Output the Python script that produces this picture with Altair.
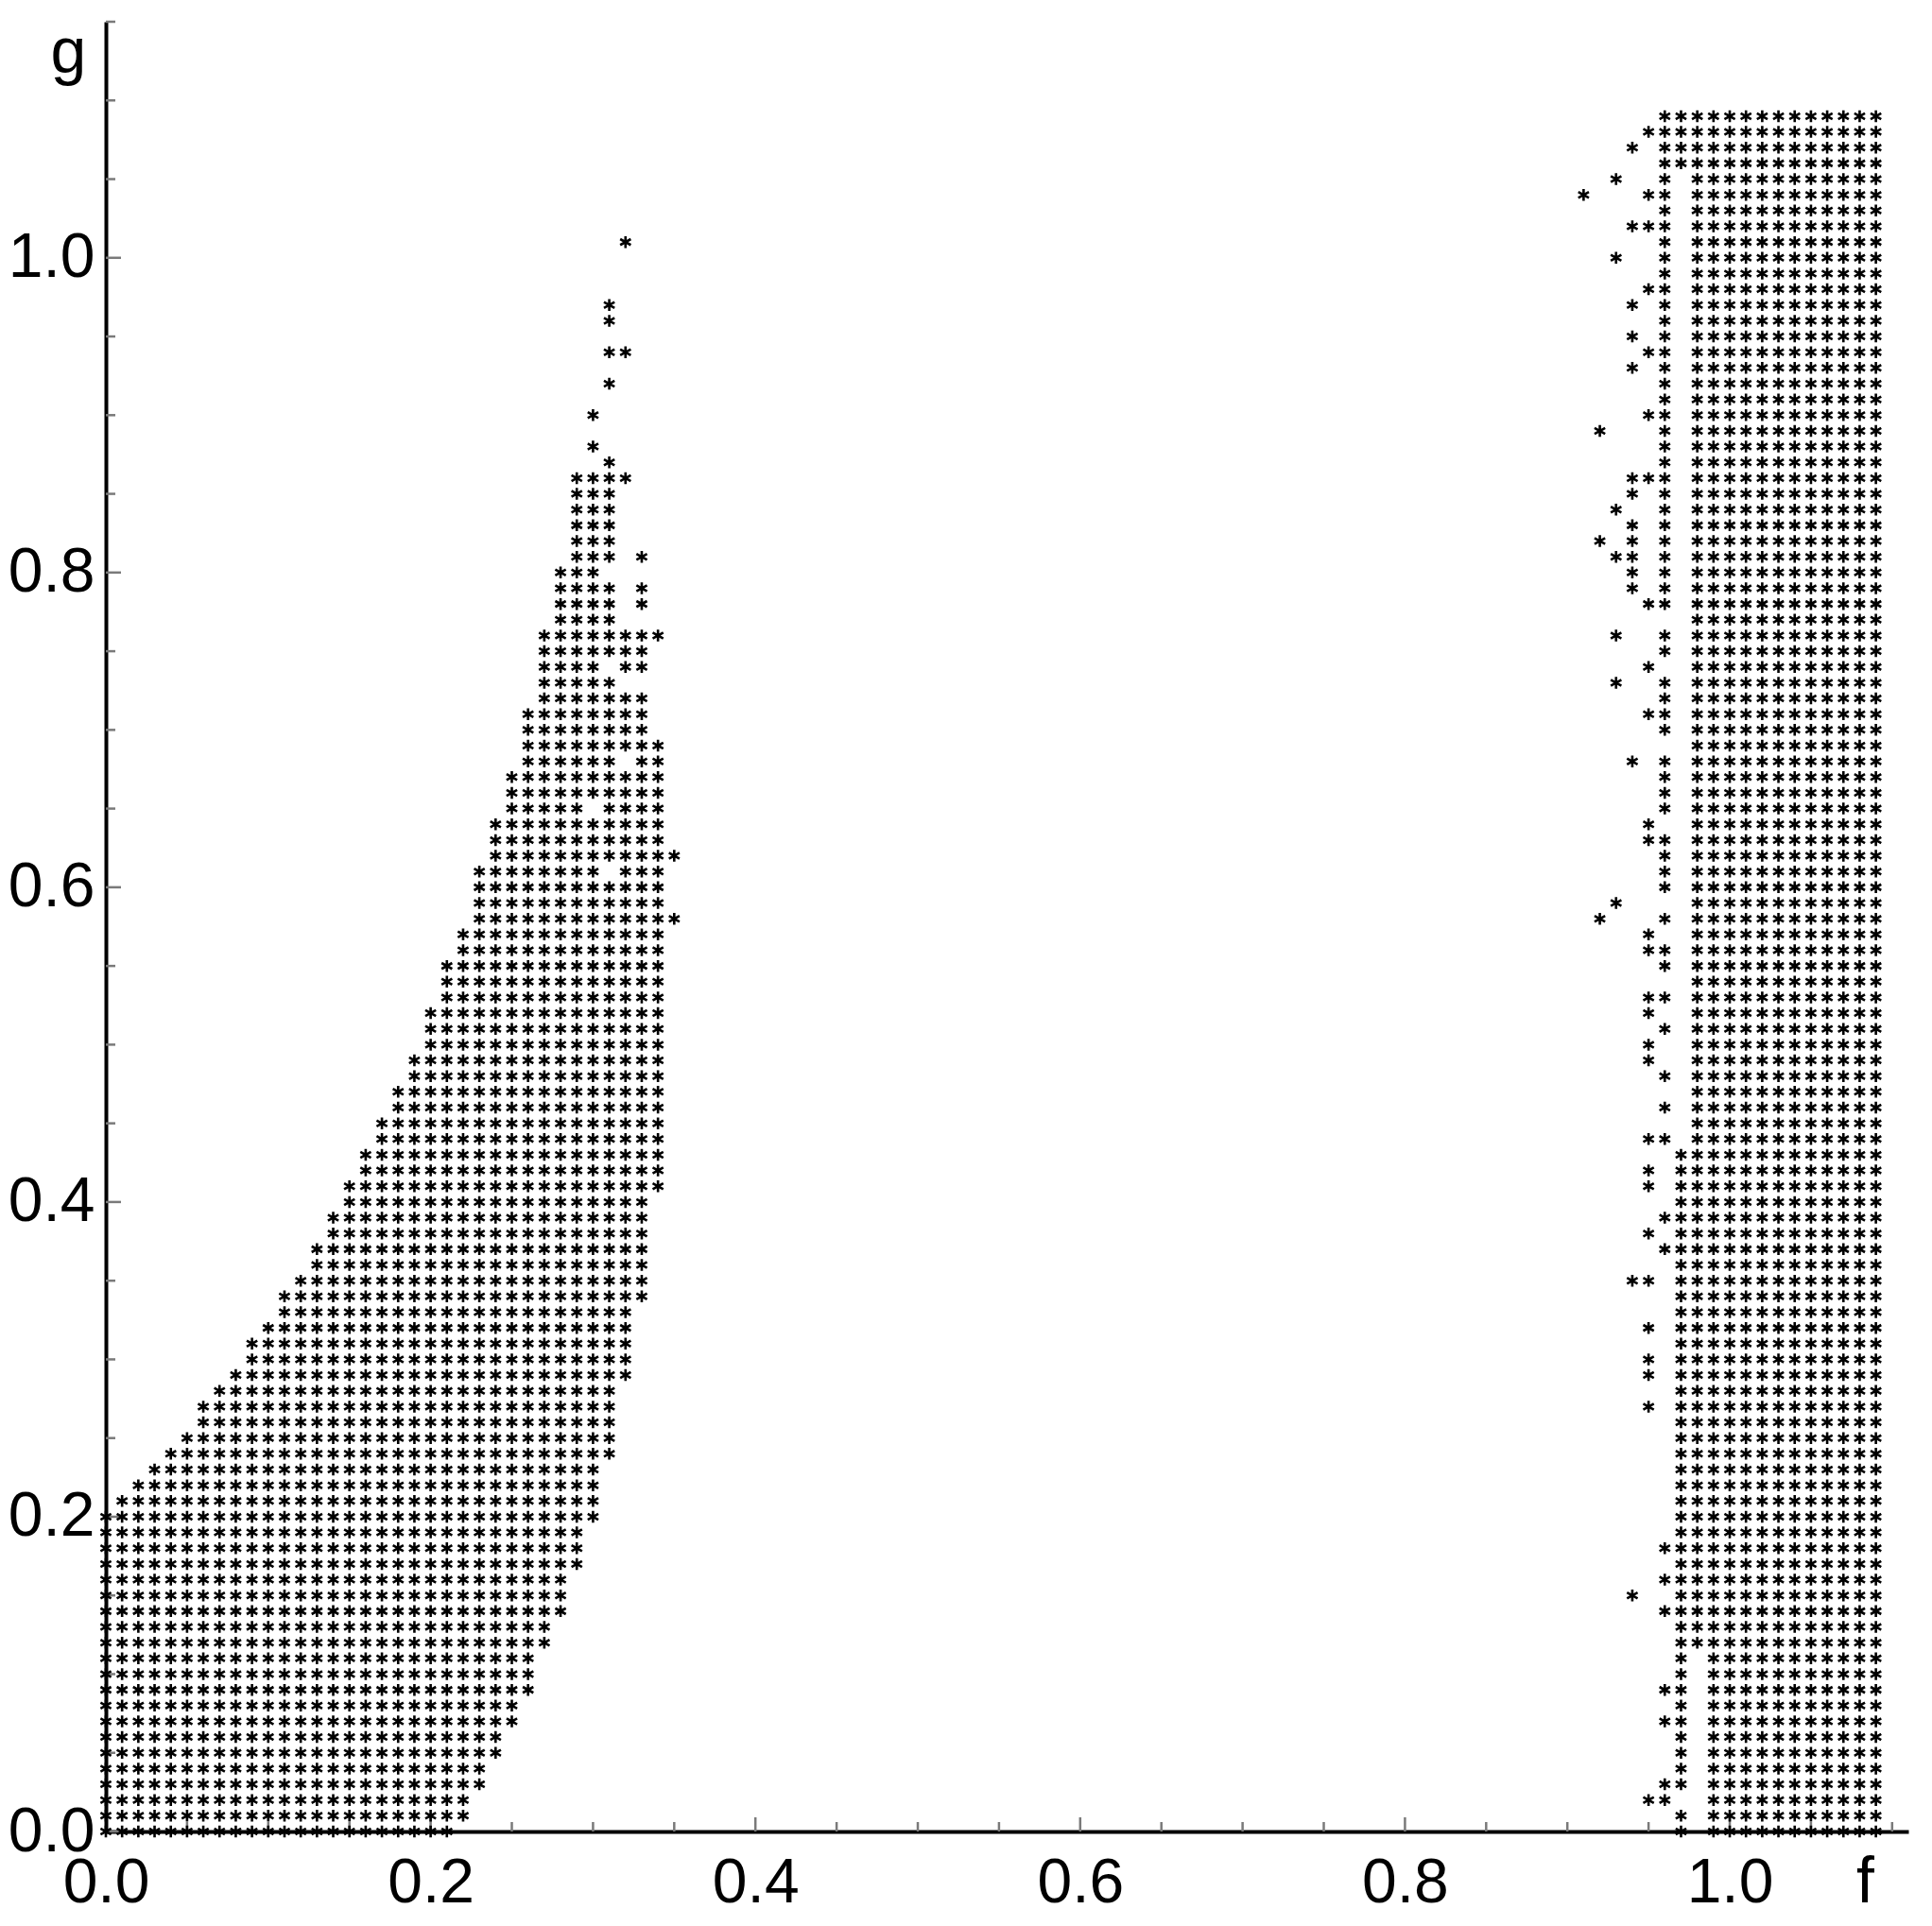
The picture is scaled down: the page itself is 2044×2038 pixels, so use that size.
import altair as alt
import pandas as pd

# Grid rows: key = g index (g = key/100), value = runs of f indices (f = i/100)
LEFT_ROWS = {
    0: "0-21", 1: "0-22", 2: "0-22", 3: "0-23", 4: "0-23", 5: "0-24", 6: "0-24",
    7: "0-25", 8: "0-25", 9: "0-26", 10: "0-26", 11: "0-26", 12: "0-27", 13: "0-27",
    14: "0-28", 15: "0-28", 16: "0-28", 17: "0-29", 18: "0-29", 19: "0-29", 20: "0-30",
    21: "1-30", 22: "2-30", 23: "3-30", 24: "4-31", 25: "5-31", 26: "6-31", 27: "6-31",
    28: "7-31", 29: "8-32", 30: "9-32", 31: "9-32", 32: "10-32", 33: "11-32", 34: "11-33",
    35: "12-33", 36: "13-33", 37: "13-33", 38: "14-33", 39: "14-33", 40: "15-33",
    41: "15-34", 42: "16-34", 43: "16-34", 44: "17-34", 45: "17-34", 46: "18-34",
    47: "18-34", 48: "19-34", 49: "19-34", 50: "20-34", 51: "20-34", 52: "20-34",
    53: "21-34", 54: "21-34", 55: "21-34", 56: "22-34", 57: "22-34", 58: "23-35",
    59: "23-34", 60: "23-34", 61: "23-30,32-34", 62: "24-35", 63: "24-34", 64: "24-34",
    65: "25-29,31-34", 66: "25-34", 67: "25-34", 68: "26-31,33-34", 69: "26-34",
    70: "26-33", 71: "26-33", 72: "27-33", 73: "27-31", 74: "27-30,32-33", 75: "27-33",
    76: "27-34", 77: "28-31", 78: "28-31,33", 79: "28-31,33", 80: "28-30", 81: "29-31,33",
    82: "29-31", 83: "29-31", 84: "29-31", 85: "29-31", 86: "29-32", 87: "31", 88: "30",
    90: "30", 92: "31", 94: "31-32", 96: "31", 97: "31", 101: "32",
}

RIGHT_ROWS = {
    109: "96-109", 108: "95-109", 107: "94,96-109", 106: "96-109", 105: "93,96,98-109",
    104: "91,95-96,98-109", 103: "96,98-109", 102: "94-96,98-109", 101: "96,98-109",
    100: "93,96,98-109", 99: "96,98-109", 98: "95-96,98-109", 97: "94,96,98-109",
    96: "96,98-109", 95: "94,96,98-109", 94: "95-96,98-109", 93: "94,96,98-109",
    92: "96,98-109", 91: "96,98-109", 90: "95-96,98-109", 89: "92,96,98-109",
    88: "96,98-109", 87: "96,98-109", 86: "94-96,98-109", 85: "94,96,98-109",
    84: "93,96,98-109", 83: "94,96,98-109", 82: "92,94,96,98-109", 81: "93-94,96,98-109",
    80: "94,96,98-109", 79: "94,96,98-109", 78: "95-96,98-109", 77: "98-109",
    76: "93,96,98-109", 75: "96,98-109", 74: "95,98-109", 73: "93,96,98-109",
    72: "96,98-109", 71: "95-96,98-109", 70: "96,98-109", 69: "98-109",
    68: "94,96,98-109", 67: "96,98-109", 66: "96,98-109", 65: "96,98-109",
    64: "95,98-109", 63: "95-96,98-109", 62: "96,98-109", 61: "96,98-109",
    60: "96,98-109", 59: "93,98-109", 58: "92,96,98-109", 57: "95,98-109",
    56: "95-96,98-109", 55: "96,98-109", 54: "98-109", 53: "95-96,98-109",
    52: "95,98-109", 51: "96,98-109", 50: "95,98-109", 49: "95,98-109",
    48: "96,98-109", 47: "98-109", 46: "96,98-109", 45: "98-109", 44: "95-96,98-109",
    43: "97-109", 42: "95,97-109", 41: "95,97-109", 40: "97-109", 39: "96-109",
    38: "95,97-109", 37: "96-109", 36: "97-109", 35: "94-95,97-109", 34: "97-109",
    33: "97-109", 32: "95,97-109", 31: "97-109", 30: "95,97-109", 29: "95,97-109",
    28: "97-109", 27: "95,97-109", 26: "97-109", 25: "97-109", 24: "97-109",
    23: "97-109", 22: "97-109", 21: "97-109", 20: "97-109", 19: "97-109",
    18: "96-109", 17: "97-109", 16: "96-109", 15: "94,97-109", 14: "96-109",
    13: "97-109", 12: "97-109", 11: "97,99-109", 10: "97,99-109", 9: "96-97,99-109",
    8: "97,99-109", 7: "96-97,99-109", 6: "97,99-109", 5: "97,99-109", 4: "97,99-109",
    3: "96-97,99-109", 2: "95-96,99-109", 1: "97,99-109", 0: "97,99-109",
}

X_LABELS = [0.0, 0.2, 0.4, 0.6, 0.8, 1.0]
Y_LABELS = [0.0, 0.2, 0.4, 0.6, 0.8, 1.0]
X_MAJOR_TICKS = [0.2, 0.4, 0.6, 0.8, 1.0]
X_MINOR_TICKS = [0.05, 0.1, 0.15, 0.25, 0.3, 0.35, 0.45, 0.5, 0.55, 0.65, 0.7, 0.75,
                 0.85, 0.9, 0.95, 1.05, 1.1]
Y_MAJOR_TICKS = [0.0, 0.2, 0.4, 0.6, 0.8, 1.0]
Y_MINOR_TICKS = [0.05, 0.1, 0.15, 0.25, 0.3, 0.35, 0.45, 0.5, 0.55, 0.65, 0.7, 0.75,
                 0.85, 0.9, 0.95, 1.05, 1.1, 1.15]


def expand(rows):
    out = []
    for j, spec in rows.items():
        for part in spec.split(","):
            if "-" in part:
                a, b = part.split("-")
            else:
                a = b = part
            for i in range(int(a), int(b) + 1):
                out.append({"f": i / 100, "g": j / 100})
    return out


df = pd.DataFrame(expand(LEFT_ROWS) + expand(RIGHT_ROWS))

W, H = 1907, 1915
FONT = "Liberation Sans"
FS = 66
ASTERISK = "M0,-1L0,1M-0.9,-0.5L0.9,0.5M-0.9,0.5L0.9,-0.5"

xs = alt.Scale(domain=[0, 1.11], nice=False, zero=False)
ys = alt.Scale(domain=[0, 1.15], nice=False, zero=False)

xaxis = alt.Axis(values=X_LABELS, format=".1f", ticks=False, tickSize=0, grid=False,
                 domainColor="black", domainWidth=4, labelFont=FONT, labelFontSize=FS,
                 labelColor="black", labelPadding=74, labelBaseline="alphabetic",
                 labelFlush=False, labelOverlap=False, title="f", titleX=1861, titleY=74,
                 titleAlign="center", titleBaseline="alphabetic", titleFont=FONT,
                 titleFontSize=FS + 2, titleFontWeight="normal", titleColor="black")
yaxis = alt.Axis(values=Y_LABELS, format=".1f", ticks=False, tickSize=0, grid=False,
                 domainColor="black", domainWidth=4, labelFont=FONT, labelFontSize=FS,
                 labelColor="black", labelPadding=12, labelBaseline="middle",
                 labelFlush=False, labelOverlap=False, title="g", titleAngle=0,
                 titleX=-40, titleY=53, titleAlign="center", titleBaseline="alphabetic",
                 titleFont=FONT, titleFontSize=FS + 2, titleFontWeight="normal",
                 titleColor="black")

points = alt.Chart(df).mark_point(
    shape=ASTERISK, size=156, filled=False, stroke="black", strokeWidth=2.6, opacity=1
).encode(
    x=alt.X("f:Q", scale=xs, axis=xaxis),
    y=alt.Y("g:Q", scale=ys, axis=yaxis),
)

tick_color = "#7a7a7a"
xmaj = alt.Chart(pd.DataFrame({"f": X_MAJOR_TICKS})).mark_rule(
    color=tick_color, strokeWidth=2.5).encode(
    x=alt.X("f:Q", scale=xs, axis=xaxis), y=alt.value(H), y2=alt.value(H - 15))
xmin = alt.Chart(pd.DataFrame({"f": X_MINOR_TICKS})).mark_rule(
    color=tick_color, strokeWidth=2.5).encode(
    x=alt.X("f:Q", scale=xs, axis=xaxis), y=alt.value(H), y2=alt.value(H - 10))
ymaj = alt.Chart(pd.DataFrame({"g": Y_MAJOR_TICKS})).mark_rule(
    color=tick_color, strokeWidth=2.5).encode(
    y=alt.Y("g:Q", scale=ys, axis=yaxis), x=alt.value(0), x2=alt.value(16))
ymin = alt.Chart(pd.DataFrame({"g": Y_MINOR_TICKS})).mark_rule(
    color=tick_color, strokeWidth=2.5).encode(
    y=alt.Y("g:Q", scale=ys, axis=yaxis), x=alt.value(0), x2=alt.value(10))

chart = alt.layer(xmaj, xmin, ymaj, ymin, points).properties(
    width=W, height=H,
    autosize=alt.AutoSizeParams(type="none"),
    padding={"left": 104, "top": 15, "right": 17, "bottom": 92},
    background="white",
).configure_view(stroke=None)

chart.save("out.html", embed_options={"renderer": "svg", "actions": False})
